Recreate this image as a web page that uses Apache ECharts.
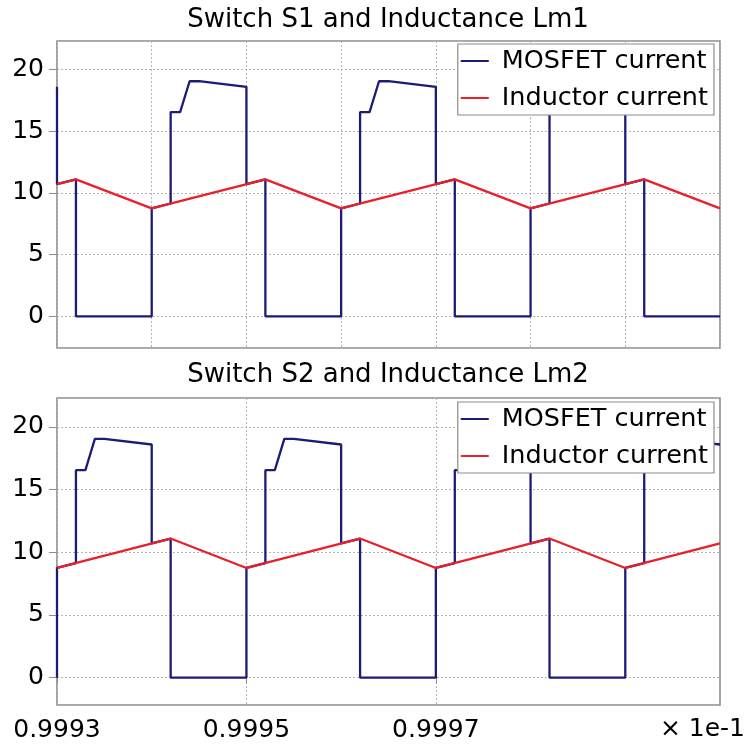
<!DOCTYPE html>
<html>
<head>
<meta charset="utf-8">
<script src="https://cdn.jsdelivr.net/npm/echarts@6/dist/echarts.min.js"></script>
<style>
  html, body { margin: 0; padding: 0; background: #fff; }
  #chart { width: 750px; height: 746px; }
</style>
</head>
<body>
<div id="chart"></div>
<script>
// Time axis values are in units of 1e-1 s; currents in A.
const xTickLabels = [0.9993, 0.9995, 0.9997];

// Switch S1 / inductance Lm1
const s1Mosfet = [
  [0.9993, 18.6], [0.9993, 10.71], [0.99932, 11.1], [0.99932, 0],
  [0.9994, 0], [0.9994, 8.75], [0.99942, 9.14], [0.99942, 16.55], [0.99943, 16.55],
  [0.99944, 19.05], [0.99945, 19.05], [0.9995, 18.6], [0.9995, 10.71], [0.99952, 11.1], [0.99952, 0],
  [0.9996, 0], [0.9996, 8.75], [0.99962, 9.14], [0.99962, 16.55], [0.99963, 16.55],
  [0.99964, 19.05], [0.99965, 19.05], [0.9997, 18.6], [0.9997, 10.71], [0.99972, 11.1], [0.99972, 0],
  [0.9998, 0], [0.9998, 8.75], [0.99982, 9.14], [0.99982, 16.55], [0.99983, 16.55],
  [0.99984, 19.05], [0.99985, 19.05], [0.9999, 18.6], [0.9999, 10.71], [0.99992, 11.1], [0.99992, 0],
  [1.0, 0]
];
const s1Inductor = [
  [0.9993, 10.71], [0.99932, 11.1], [0.9994, 8.75], [0.99952, 11.1], [0.9996, 8.75],
  [0.99972, 11.1], [0.9998, 8.75], [0.99992, 11.1], [1.0, 8.75]
];

// Switch S2 / inductance Lm2
const s2Mosfet = [
  [0.9993, 0], [0.9993, 8.75], [0.99932, 9.14], [0.99932, 16.55], [0.99933, 16.55],
  [0.99934, 19.05], [0.99935, 19.05], [0.9994, 18.6], [0.9994, 10.71], [0.99942, 11.1], [0.99942, 0],
  [0.9995, 0], [0.9995, 8.75], [0.99952, 9.14], [0.99952, 16.55], [0.99953, 16.55],
  [0.99954, 19.05], [0.99955, 19.05], [0.9996, 18.6], [0.9996, 10.71], [0.99962, 11.1], [0.99962, 0],
  [0.9997, 0], [0.9997, 8.75], [0.99972, 9.14], [0.99972, 16.55], [0.99973, 16.55],
  [0.99974, 19.05], [0.99975, 19.05], [0.9998, 18.6], [0.9998, 10.71], [0.99982, 11.1], [0.99982, 0],
  [0.9999, 0], [0.9999, 8.75], [0.99992, 9.14], [0.99992, 16.55], [0.99993, 16.55],
  [0.99994, 19.05], [0.99995, 19.05], [1.0, 18.6]
];
const s2Inductor = [
  [0.9993, 8.75], [0.99942, 11.1], [0.9995, 8.75], [0.99962, 11.1], [0.9997, 8.75],
  [0.99982, 11.1], [0.9999, 8.75], [1.0, 10.71]
];

const FONT = 'DejaVu Sans';
const MOSFET_COLOR = '#1c1c78';
const INDUCTOR_COLOR = '#e8202a';
const GRID_COLOR = '#b4b4b4';
const BORDER_COLOR = '#8c8c8c';

function xAxisFor(gridIndex, withLabels) {
  return {
    type: 'value', gridIndex: gridIndex,
    min: 0.9993, max: 1.0, interval: 0.0001,
    axisLine: { show: false },
    axisTick: withLabels
      ? { show: true, customValues: xTickLabels, length: 6, lineStyle: { color: BORDER_COLOR, width: 1 } }
      : { show: false },
    axisLabel: withLabels
      ? { show: true, customValues: xTickLabels, margin: 13, fontFamily: FONT, fontSize: 25, color: '#000',
          formatter: v => v.toFixed(4) }
      : { show: false },
    splitLine: { show: true, lineStyle: { color: GRID_COLOR, type: [2, 2], width: 1 } }
  };
}

function yAxisFor(gridIndex, min, max) {
  return {
    type: 'value', gridIndex: gridIndex, min: min, max: max,
    axisLine: { show: false },
    axisTick: { show: true, length: 8, lineStyle: { color: BORDER_COLOR, width: 1 } },
    axisLabel: { margin: 13, fontFamily: FONT, fontSize: 25, color: '#000', showMinLabel: false, showMaxLabel: false },
    splitLine: { show: true, lineStyle: { color: GRID_COLOR, type: [2, 2], width: 1 } }
  };
}

function legendFor(top) {
  return {
    orient: 'vertical', right: 36, top: top,
    backgroundColor: '#fff', borderColor: '#8c8c8c', borderWidth: 1.2,
    padding: [2, 6, 2, 3], itemGap: 7,
    icon: 'rect', itemWidth: 28, itemHeight: 2,
    textStyle: { fontFamily: FONT, fontSize: 25.5, color: '#000', lineHeight: 30, padding: [0, 0, 0, 8] },
    data: ['MOSFET current', 'Inductor current']
  };
}

function lineSeries(name, data, color, axisIndex) {
  return {
    type: 'line', name: name, data: data,
    xAxisIndex: axisIndex, yAxisIndex: axisIndex,
    showSymbol: false, symbol: 'none',
    lineStyle: { color: color, width: 2.3 }, itemStyle: { color: color },
    clip: true
  };
}

const chart = echarts.init(document.getElementById('chart'), null, { renderer: 'canvas' });
chart.setOption({
  animation: false,
  backgroundColor: '#fff',
  title: [
    { text: 'Switch S1 and Inductance Lm1', left: 388, top: 7, textAlign: 'center', padding: 0,
      textStyle: { fontFamily: FONT, fontSize: 26, fontWeight: 'normal', color: '#000' } },
    { text: 'Switch S2 and Inductance Lm2', left: 388, top: 362, textAlign: 'center', padding: 0,
      textStyle: { fontFamily: FONT, fontSize: 26, fontWeight: 'normal', color: '#000' } }
  ],
  legend: [legendFor(44), legendFor(402)],
  grid: [
    { left: 57, right: 30, top: 41, height: 307, show: true, borderColor: BORDER_COLOR, borderWidth: 1.6, backgroundColor: 'transparent' },
    { left: 57, right: 30, top: 398, height: 307, show: true, borderColor: BORDER_COLOR, borderWidth: 1.6, backgroundColor: 'transparent' }
  ],
  xAxis: [xAxisFor(0, false), xAxisFor(1, true)],
  yAxis: [yAxisFor(0, -2.57, 22.31), yAxisFor(1, -2.18, 22.31)],
  series: [
    lineSeries('MOSFET current', s1Mosfet, MOSFET_COLOR, 0),
    lineSeries('Inductor current', s1Inductor, INDUCTOR_COLOR, 0),
    lineSeries('MOSFET current', s2Mosfet, MOSFET_COLOR, 1),
    lineSeries('Inductor current', s2Inductor, INDUCTOR_COLOR, 1)
  ],
  graphic: [
    { type: 'text', right: 5, top: 717,
      style: { text: '× 1e-1', font: '25px "DejaVu Sans"', fill: '#000' } }
  ]
});
</script>
</body>
</html>
